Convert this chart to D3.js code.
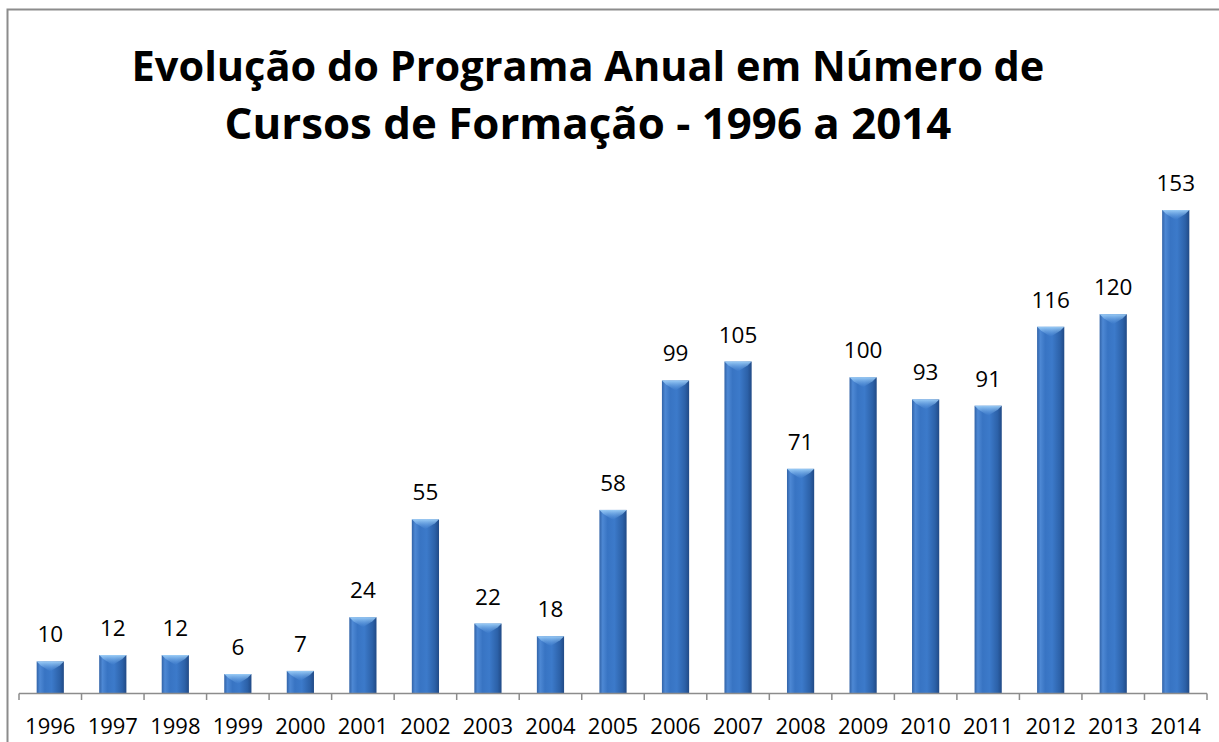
<!DOCTYPE html>
<html>
<head>
<meta charset="utf-8">
<script src="https://cdn.jsdelivr.net/npm/d3@7"></script>
<style>
  body { margin: 0; background: #fff; }
  svg { display: block; font-family: "Open Sans", sans-serif; }
</style>
</head>
<body>
<svg id="chart" width="1219" height="742"></svg>
<script>
const years = ["1996", "1997", "1998", "1999", "2000", "2001", "2002", "2003", "2004", "2005",
               "2006", "2007", "2008", "2009", "2010", "2011", "2012", "2013", "2014"];
const cursos = [10, 12, 12, 6, 7, 24, 55, 22, 18, 58, 99, 105, 71, 100, 93, 91, 116, 120, 153];
const titleLines = ["Evolução do Programa Anual em Número de", "Cursos de Formação - 1996 a 2014"];

const svg = d3.select("#chart");

// chart frame
svg.append("rect")
    .attr("x", 7.5).attr("y", 9.5)
    .attr("width", 1240).attr("height", 760)
    .attr("fill", "none")
    .attr("stroke", "#8c8c8c")
    .attr("stroke-width", 2);

const defs = svg.append("defs");
const grad = defs.append("linearGradient").attr("id", "barGrad")
    .attr("x1", "0%").attr("x2", "100%").attr("y1", "0%").attr("y2", "0%");
grad.append("stop").attr("offset", "0%").attr("stop-color", "#3163a8");
grad.append("stop").attr("offset", "12%").attr("stop-color", "#4d88d4");
grad.append("stop").attr("offset", "30%").attr("stop-color", "#3874c3");
grad.append("stop").attr("offset", "55%").attr("stop-color", "#3c7aca");
grad.append("stop").attr("offset", "85%").attr("stop-color", "#2c61a8");
grad.append("stop").attr("offset", "100%").attr("stop-color", "#214a86");

const topGrad = defs.append("linearGradient").attr("id", "topGrad")
    .attr("x1", "0%").attr("x2", "0%").attr("y1", "0%").attr("y2", "100%");
topGrad.append("stop").attr("offset", "0%").attr("stop-color", "#9fd0f8").attr("stop-opacity", 0.95);
topGrad.append("stop").attr("offset", "100%").attr("stop-color", "#6aa6ea").attr("stop-opacity", 0);

const x = d3.scaleBand()
    .domain(years)
    .range([19, 1207])
    .paddingInner(0.565)
    .paddingOuter(0.2825);

const y = d3.scaleLinear()
    .domain([0, 153])
    .range([693, 210]);

const bars = svg.append("g");
years.forEach((yr, i) => {
    const bx = x(yr), bw = x.bandwidth(), top = y(cursos[i]);
    bars.append("rect")
        .attr("x", bx).attr("y", top)
        .attr("width", bw).attr("height", y(0) - top)
        .attr("fill", "url(#barGrad)");
    bars.append("path")
        .attr("d", `M${bx},${top} L${bx + bw},${top} L${bx + bw - 4},${top + 4} L${bx + bw / 2},${top + 10} L${bx + 4},${top + 4} Z`)
        .attr("fill", "url(#topGrad)");
});

// axis line and ticks at category boundaries
const axis = svg.append("g").attr("stroke", "#8c8c8c").attr("stroke-width", 1.5);
axis.append("line")
    .attr("x1", 19).attr("x2", 1207)
    .attr("y1", 693.5).attr("y2", 693.5);
d3.range(years.length + 1).forEach(k => {
    const tx = 19 + k * x.step();
    axis.append("line")
        .attr("x1", tx).attr("x2", tx)
        .attr("y1", 693.5).attr("y2", 700);
});

// year labels
svg.append("g").selectAll("text")
    .data(years)
    .join("text")
    .attr("x", d => x(d) + x.bandwidth() / 2)
    .attr("y", 734)
    .attr("text-anchor", "middle")
    .attr("font-size", 22)
    .attr("fill", "#000")
    .text(d => d);

// value labels
svg.append("g").selectAll("text")
    .data(cursos)
    .join("text")
    .attr("x", (d, i) => x(years[i]) + x.bandwidth() / 2)
    .attr("y", d => y(d) - 19)
    .attr("text-anchor", "middle")
    .attr("font-size", 22.5)
    .attr("fill", "#000")
    .text(d => d);

// title
const titleWidths = [913, 727];
const titleY = [81, 139];
titleLines.forEach((t, i) => {
    const txt = svg.append("text")
        .attr("x", 588)
        .attr("y", titleY[i])
        .attr("text-anchor", "middle")
        .attr("font-weight", "bold")
        .attr("font-size", 40)
        .attr("fill", "#000")
        .text(t);
    const w = txt.node().getComputedTextLength();
    txt.attr("font-size", 40 * titleWidths[i] / w);
});
</script>
</body>
</html>
